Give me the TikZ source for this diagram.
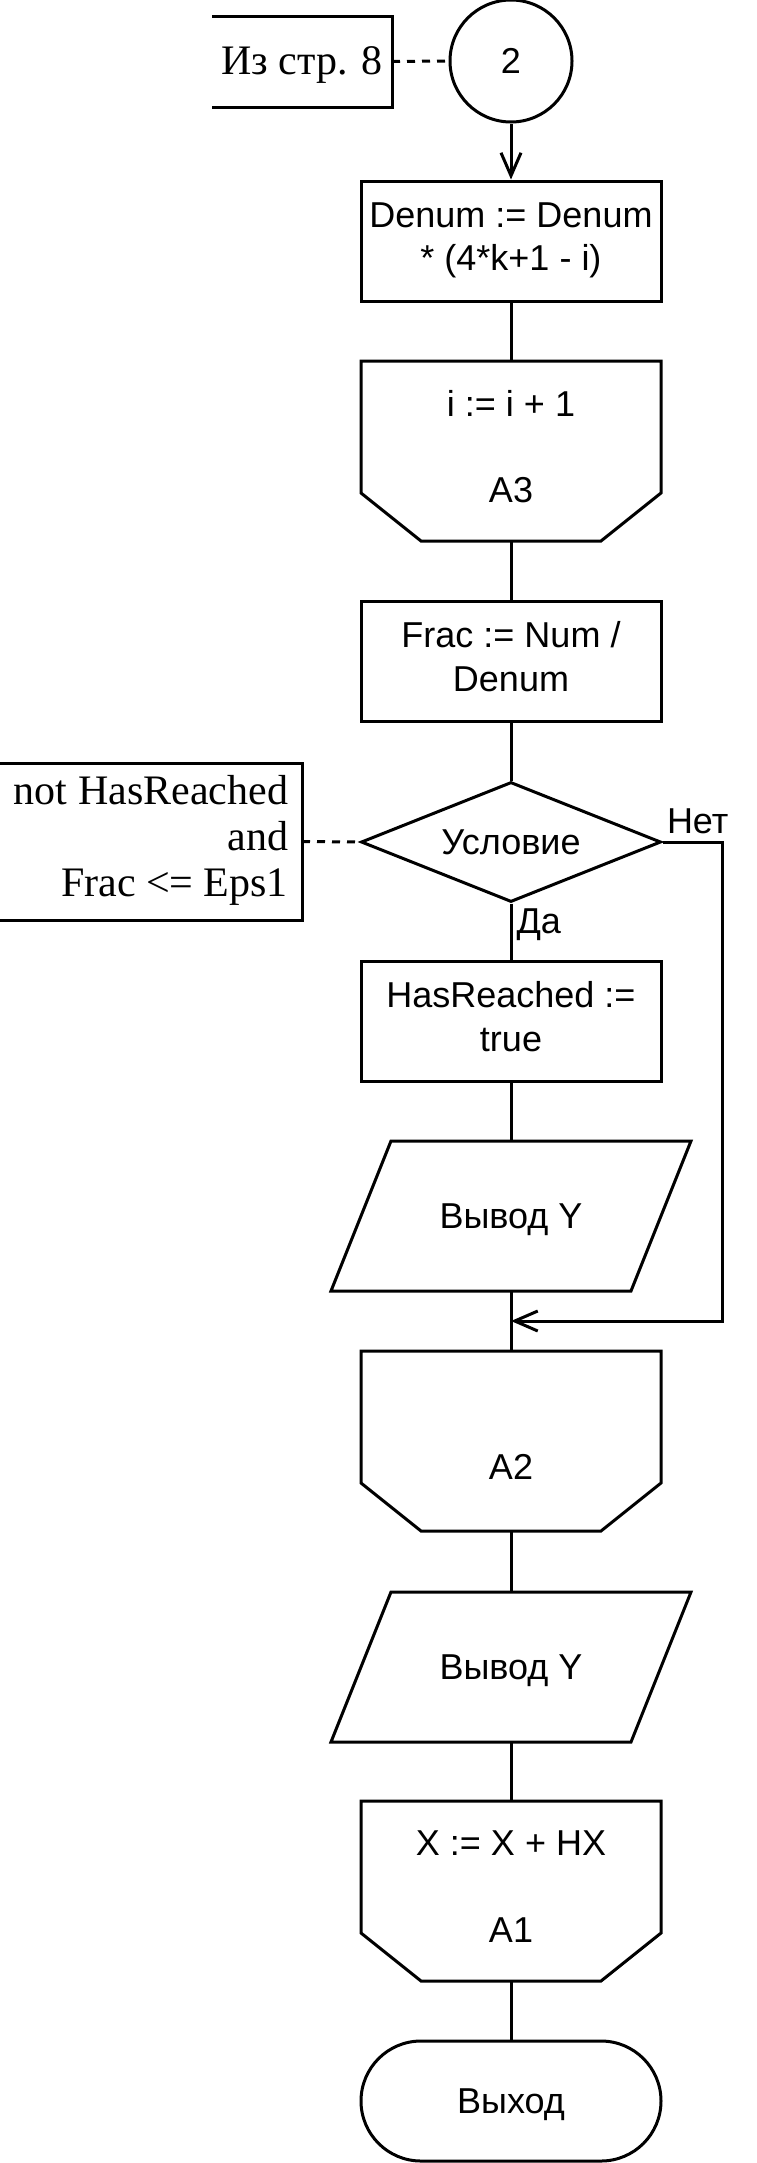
\documentclass[tikz,border=0pt]{standalone}
\usepackage{fontspec}
\setmainfont{Liberation Sans}
\newfontfamily\notefont{Liberation Serif}
\usetikzlibrary{shapes.geometric,arrows.meta}

% line boxes like the drawing program: same height for every row
\newcommand\rowstrut{\rule[-4.55pt]{0pt}{21.6pt}}
\newcommand\notestrut{\rule[-5.25pt]{0pt}{23pt}}
% loop limit outline, chamfered at the bottom
\newcommand\loopshape[1]{\draw (#1.north west) -- (#1.north east) -- ([yshift=24pt]#1.south east) -- ([xshift=-30pt]#1.south east) -- ([xshift=30pt]#1.south west) -- ([yshift=24pt]#1.south west) -- cycle;}
% data (input/output) outline
\newcommand\ioshape[1]{\draw ([xshift=15pt]#1.north west) -- ([xshift=15pt]#1.north east) -- ([xshift=-15pt]#1.south east) -- ([xshift=-15pt]#1.south west) -- cycle;}
% comment bracket, open on the left
\newcommand\bracket[1]{\draw (#1.north west) -- (#1.north east) -- (#1.south east) -- (#1.south west);}

\tikzset{
	block/.style={draw, rectangle, minimum width=150pt, minimum height=60pt, inner sep=0pt, align=center,
		font=\fontsize{18}{21.6}\selectfont, execute at begin node=\rowstrut, execute at end node=\rowstrut},
	loopbox/.style={block, draw=none, outer sep=0pt, minimum height=90pt},
	io/.style={block, draw=none, outer sep=0pt, minimum height=75pt},
	term/.style={block, rounded corners=30pt},
	decide/.style={block, diamond, aspect=2.5, minimum width=150pt, minimum height=60pt},
	conn/.style={block, circle, minimum size=61pt},
	annot/.style={rectangle, outer sep=0pt, inner sep=0pt, align=right, font=\notefont\fontsize{21}{23}\selectfont,
		execute at begin node=\notestrut, execute at end node=\notestrut},
	lbl/.style={inner sep=0pt, font=\fontsize{18}{21.6}\selectfont},
	arr/.style={-{Straight Barb[length=11.5pt,width=10pt]}},
	commentline/.style={dash pattern=on 4pt off 3.5pt}
}

\begin{document}
\begin{tikzpicture}[x=0.5pt, y=-0.5pt, line width=1.5pt]
	\useasboundingbox (0,0) rectangle (756,2163);

	\node[conn] (p2) at (511,61) {2};
	\node[annot, minimum width=90pt, minimum height=45.5pt] (from8) at (302,61.5) {Из стр. 8};
	\bracket{from8}
	\draw[commentline] (from8.east) -- (p2.west);

	\node[block] (denum) at (511,241) {Denum := Denum\\ * (4*k+1 - i)};
	\node[loopbox] (a3) at (511,451) {i := i + 1\\[21.6pt]A3};
	\loopshape{a3}
	\node[block] (frac) at (511,661) {Frac := Num /\\Denum};
	\node[decide] (cond) at (511,842) {Условие};
	\node[annot, minimum width=151pt, minimum height=78.5pt] (cmt) at (151,841.5) {not HasReached\\and\\Frac <= Eps1};
	\bracket{cmt}
	\draw[commentline] (cmt.east) -- (cond.west);

	\node[block] (reached) at (511,1021) {HasReached :=\\true};
	\node[io] (outA) at (511,1216) {Вывод Y};
	\ioshape{outA}
	\node[loopbox] (a2) at (511,1441) {~\\[21.6pt]A2};
	\loopshape{a2}
	\node[io] (outB) at (511,1667) {Вывод Y};
	\ioshape{outB}
	\node[loopbox] (a1) at (511,1891) {X := X + HX\\[21.6pt]A1};
	\loopshape{a1}
	\node[term] (exit) at (511,2101) {Выход};

	\coordinate (turn) at (722,842);
	\coordinate (join) at (511,1321);

	\draw[arr] (p2) -- (denum);
	\draw (denum) -- (a3);
	\draw (a3) -- (frac);
	\draw (frac) -- (cond);
	\draw (cond) -- (reached);
	\draw (reached) -- (outA);
	\draw (outA) -- (a2);
	\draw (a2) -- (outB);
	\draw (outB) -- (a1);
	\draw (a1) -- (exit);
	\draw[arr] (cond.east) -- (turn) |- (join);

	\node[lbl, anchor=base west] (no) at ([xshift=1.5pt, yshift=4.5pt]cond.east) {Нет};
	\node[lbl, anchor=base west] (yes) at ([xshift=2pt, yshift=-15pt]cond.south) {Да};
\end{tikzpicture}
\end{document}
